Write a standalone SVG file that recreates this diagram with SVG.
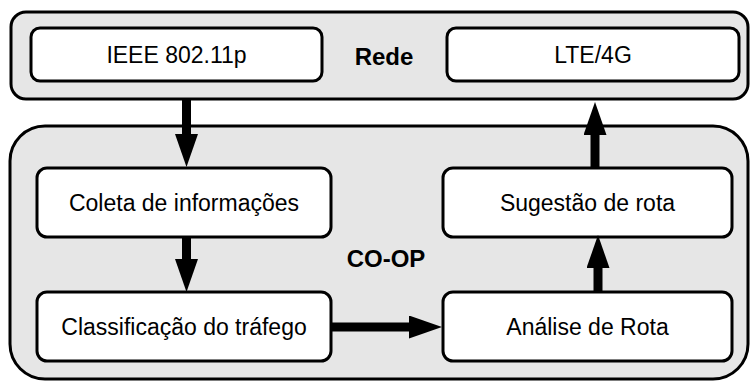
<svg xmlns="http://www.w3.org/2000/svg" width="750" height="381" viewBox="0 0 750 381">
<style>
.group{fill:#e6e6e6;stroke:#000;stroke-width:3}
.node{fill:#fff;stroke:#000;stroke-width:3}
.t{font-family:"Liberation Sans",Arial,sans-serif;font-size:23px;fill:#000;text-anchor:middle}
.b{font-family:"Liberation Sans",Arial,sans-serif;font-size:24px;font-weight:bold;fill:#000;text-anchor:middle}
.c{stroke:#000;stroke-width:9;fill:none;marker-end:url(#ah)}
</style>
<defs>
<marker id="ah" markerUnits="userSpaceOnUse" viewBox="0 0 33 23" refX="1" refY="11.5" markerWidth="33" markerHeight="23" orient="auto">
<path d="M0,0 L33,11.5 L0,23 Z" fill="#000"/>
</marker>
</defs>
<rect width="750" height="381" fill="#fff"/>
<g id="rede">
<rect class="group" x="11" y="12" width="737" height="87" rx="15"/>
<text class="b" x="384" y="65">Rede</text>
</g>
<g id="coop">
<rect class="group" x="10" y="126" width="738" height="253" rx="35"/>
<text class="b" x="386" y="267">CO-OP</text>
</g>
<g id="ieee">
<rect class="node" x="31" y="28" width="291" height="53" rx="9"/>
<text class="t" x="176.5" y="63">IEEE 802.11p</text>
</g>
<g id="lte">
<rect class="node" x="447" y="28" width="292" height="53" rx="9"/>
<text class="t" x="593" y="63">LTE/4G</text>
</g>
<g id="coleta">
<rect class="node" x="37" y="168" width="294" height="69" rx="10"/>
<text class="t" x="184" y="211">Coleta de informações</text>
</g>
<g id="classificacao">
<rect class="node" x="37" y="292" width="294" height="69" rx="10"/>
<text class="t" x="184" y="335">Classificação do tráfego</text>
</g>
<g id="sugestao">
<rect class="node" x="443" y="168" width="289" height="69" rx="10"/>
<text class="t" x="587.5" y="211">Sugestão de rota</text>
</g>
<g id="analise">
<rect class="node" x="443" y="292" width="289" height="69" rx="10"/>
<text class="t" x="587.5" y="335">Análise de Rota</text>
</g>
<g id="connectors">
<path class="c" d="M186.5,99 V135"/>
<path class="c" d="M186.5,238 V260"/>
<path class="c" d="M331,327 H410"/>
<path class="c" d="M598,292 V267"/>
<path class="c" d="M595,167 V134"/>
</g>
</svg>
